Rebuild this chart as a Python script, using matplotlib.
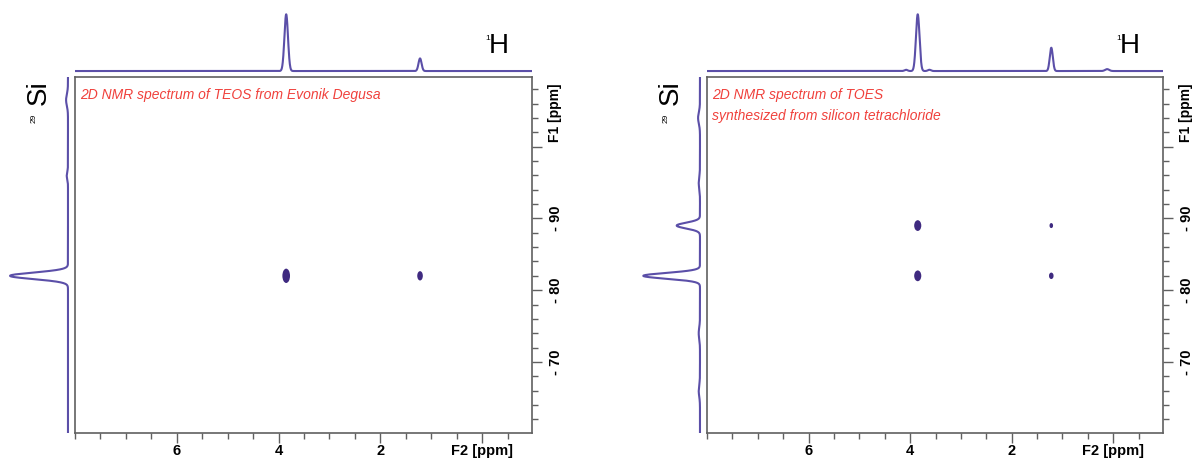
import numpy as np
import matplotlib
matplotlib.use("Agg")
import matplotlib.pyplot as plt
from matplotlib.patches import Ellipse
from matplotlib.ticker import MultipleLocator, FixedLocator, FixedFormatter

plt.rcParams["font.family"] = ["Liberation Sans", "DejaVu Sans"]

# chemical shift ranges (ppm)
f2_range = (8.0, -0.98)
f1_range = (-109.7, -60.1)

titles = ["2D NMR spectrum of TEOS from Evonik Degusa",
          "2D NMR spectrum of TOES\nsynthesized from silicon tetrachloride"]

# 1H projection peaks: position, height, half width
h_pos = [[3.85, 1.22], [3.85, 3.62, 4.08, 1.22, 0.12]]
h_height = [[0.90, 0.20], [0.90, 0.02, 0.02, 0.37, 0.03]]
h_width = [[0.035, 0.03], [0.035, 0.03, 0.03, 0.03, 0.04]]

# 29Si projection peaks
si_pos = [[-82.0, -106.5, -96.0], [-82.0, -89.0, -104.0, -95.0, -74.0, -66.0]]
si_height = [[0.92, 0.03, 0.02], [0.90, 0.37, 0.03, 0.02, 0.02, 0.02]]
si_width = [[0.45, 0.8, 0.5], [0.4, 0.4, 0.8, 0.8, 0.8, 0.8]]

# cross peaks: F2, F1, width (ppm), height (ppm)
cross_f2 = [[3.85, 1.22], [3.85, 1.22, 3.85, 1.22]]
cross_f1 = [[-82.0, -82.0], [-89.0, -89.0, -82.0, -82.0]]
cross_w = [[0.15, 0.11], [0.14, 0.07, 0.14, 0.09]]
cross_h = [[2.0, 1.3], [1.5, 0.7, 1.5, 0.9]]

W, H = 1192, 463
line_col = "#5b4fa8"
spot_col = "#3f2a80"
box_col = "#606060"
red = "#f0413c"


def fig_rect(x0, y0, x1, y1):
    return [x0 / W, 1 - y1 / H, (x1 - x0) / W, (y1 - y0) / H]


def peaks(x, pos, height, width):
    y = np.zeros_like(x)
    for p, h, w in zip(pos, height, width):
        y += h * np.exp(-0.5 * ((x - p) / w) ** 2)
    return y


fig = plt.figure(figsize=(W / 100, H / 100), dpi=100)

panels = [(75, 532), (707, 1163)]
box_top, box_bot = 77, 433

for i, (x0, x1) in enumerate(panels):
    ax = fig.add_axes(fig_rect(x0, box_top, x1, box_bot))
    ax.set_xlim(*f2_range)
    ax.set_ylim(f1_range[1], f1_range[0])
    for s in ax.spines.values():
        s.set_color(box_col)
        s.set_linewidth(1.2)

    ax.xaxis.set_major_locator(FixedLocator([6, 4, 2, 0]))
    ax.xaxis.set_major_formatter(FixedFormatter(["6", "4", "2", "F2 [ppm]"]))
    ax.xaxis.set_minor_locator(MultipleLocator(0.5))
    ax.yaxis.tick_right()
    ax.yaxis.set_major_locator(FixedLocator([-100, -90, -80, -70]))
    ax.yaxis.set_major_formatter(FixedFormatter(["", "- 90", "- 80", "- 70"]))
    ax.yaxis.set_minor_locator(MultipleLocator(2))
    ax.tick_params(which="major", length=7, width=1, color=box_col,
                   labelsize=10.5, pad=5)
    ax.tick_params(which="minor", length=4, width=1, color=box_col)
    ax.tick_params(axis="x", pad=1)
    ax.tick_params(axis="y", labelrotation=90)
    for lab in ax.get_xticklabels() + ax.get_yticklabels():
        lab.set_fontweight("bold")
    for lab in ax.get_yticklabels():
        lab.set_va("center")
    ax.text(1.035, 0.9, "F1 [ppm]", transform=ax.transAxes, rotation=90,
            ha="left", va="center", fontsize=10, fontweight="bold")

    for fx, fy, w, h in zip(cross_f2[i], cross_f1[i], cross_w[i], cross_h[i]):
        ax.add_patch(Ellipse((fx, fy), w, h, color=spot_col, lw=0))

    ax.text(0.012, 0.968, titles[i], transform=ax.transAxes, color=red,
            fontsize=10, style="italic", ha="left", va="top", linespacing=1.6)

    # 1H projection on top
    axt = fig.add_axes(fig_rect(x0, 8, x1, 75))
    xh = np.linspace(f2_range[0], f2_range[1], 4000)
    axt.plot(xh, peaks(xh, h_pos[i], h_height[i], h_width[i]),
             color=line_col, lw=1.5)
    axt.set_xlim(*f2_range)
    axt.set_ylim(-0.063, 1.0)
    axt.axis("off")
    fig.text((x1 - 47) / W, 1 - 39 / H, "1", fontsize=6,
             ha="left", va="center")
    fig.text((x1 - 43) / W, 1 - 46 / H, "H", fontsize=20,
             ha="left", va="center")

    # 29Si projection on the left
    axl = fig.add_axes(fig_rect(x0 - 70, box_top, x0 - 4, box_bot))
    ys = np.linspace(f1_range[0], f1_range[1], 4000)
    axl.plot(peaks(ys, si_pos[i], si_height[i], si_width[i]), ys,
             color=line_col, lw=1.5)
    axl.set_ylim(f1_range[1], f1_range[0])
    axl.set_xlim(1.0, -0.048)
    axl.axis("off")
    fig.text((x0 - 36) / W, 1 - 93 / H, "Si", fontsize=20, rotation=90,
             ha="center", va="center")
    fig.text((x0 - 41) / W, 1 - 118 / H, "29", fontsize=6, rotation=90,
             ha="center", va="center")

fig.savefig("out.png", dpi=100)
